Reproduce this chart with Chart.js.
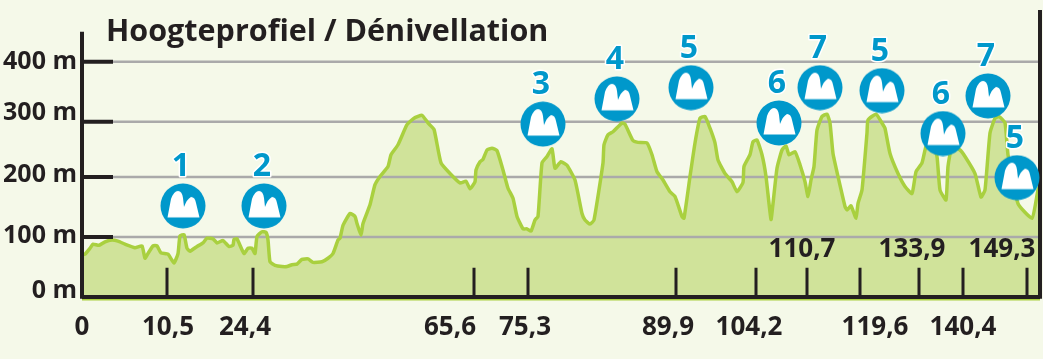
<!DOCTYPE html>
<html>
<head>
<meta charset="utf-8">
<title>Hoogteprofiel</title>
<script src="https://cdn.jsdelivr.net/npm/chart.js@4/dist/chart.umd.min.js"></script>
<style>
  html, body { margin: 0; padding: 0; background: #f5f9e9; }
  #wrap { width: 1043px; height: 359px; overflow: hidden; }
</style>
</head>
<body>
<div id="wrap"><canvas id="profileCanvas" width="1043" height="359"></canvas></div>
<script>
const titleText = "Hoogteprofiel / Dénivellation";

// profile: position along the drawn axis (the km axis is not to scale) + elevation in m
const profileDist = [
  0, 3, 8, 11, 17, 23, 30, 36, 43, 53, 60, 63, 66, 71, 75, 79, 86, 92, 96, 98,
  102, 105, 108, 115, 121, 125, 131, 135, 141, 147, 151, 152, 155, 162, 166, 170, 173, 175, 180, 184,
  186, 188, 193, 200, 205, 210, 215, 220, 226, 231, 240, 246, 251, 256, 258, 261, 268, 273, 275, 279,
  281, 288, 293, 298, 306, 309, 316, 325, 332, 340, 346, 352, 359, 368, 378, 384, 388, 393, 394, 398,
  401, 405, 410, 415, 421, 426, 431, 435, 441, 445, 449, 453, 456, 460, 465, 470, 473, 479, 485, 493,
  500, 503, 508, 512, 521, 522, 526, 531, 540, 543, 551, 556, 565, 570, 575, 581, 588, 593, 600, 602,
  608, 613, 618, 623, 628, 633, 636, 643, 650, 655, 661, 662, 668, 671, 675, 680, 684, 689, 691, 695,
  700, 704, 707, 713, 718, 723, 726, 729, 732, 735, 740, 745, 748, 751, 756, 763, 765, 769, 774, 776,
  780, 785, 786, 794, 801, 803, 808, 816, 823, 830, 834, 840, 844, 850, 855, 858, 864, 866, 870, 878,
  883, 893, 899, 903, 908, 913, 917, 923, 926, 936, 950, 956, 958,
];
const profileElev = [
  72, 73, 83, 90, 88, 94, 97, 95, 90, 84, 87, 66, 74, 87, 87, 75, 73, 58, 74, 104,
  106, 83, 78, 86, 92, 100, 99, 92, 96, 86, 88, 98, 99, 74, 83, 83, 74, 103, 111, 110,
  97, 60, 54, 52, 52, 55, 56, 64, 65, 59, 60, 66, 74, 97, 100, 122, 142, 137, 125, 105,
  125, 157, 191, 205, 222, 242, 259, 293, 304, 309, 296, 285, 228, 210, 194, 197, 184, 196, 216, 230,
  234, 250, 253, 249, 216, 185, 168, 137, 116, 116, 112, 131, 137, 228, 239, 252, 219, 230, 224, 199,
  142, 131, 124, 131, 228, 259, 276, 281, 296, 294, 266, 263, 262, 242, 213, 199, 179, 171, 137, 134,
  205, 262, 304, 307, 287, 262, 233, 210, 196, 179, 195, 222, 242, 264, 267, 242, 205, 132, 159, 219,
  250, 257, 242, 247, 225, 196, 171, 199, 222, 284, 307, 311, 296, 244, 205, 154, 148, 155, 134, 159,
  182, 279, 301, 311, 293, 287, 244, 210, 188, 176, 213, 228, 256, 267, 239, 182, 165, 222, 256, 250,
  239, 210, 170, 182, 279, 304, 307, 296, 242, 159, 134, 182, 190,
];

// bottom km ticks; the labels do not sit exactly below their ticks in the original
const kmTickPos = [0, 85, 171, 392, 446, 594, 674, 725, 778, 837, 881, 945];
const kmLabels = ["0", "10,5", "24,4", "65,6", "75,3", "89,9", "104,2", "119,6", "140,4"];
const kmLabelPos = [0, 86, 163, 368, 443, 586, 667, 793, 881];
const kmUpperLabels = ["110,7", "133,9", "149,3"];
const kmUpperPos = [720, 830, 920];
const kmUpperElev = 80;

// elevation axis
const gridElev = [102, 204, 298, 400];
const elevLabels = ["0 m", "100 m", "200 m", "300 m", "400 m"];
const elevLabelPos = [11, 104, 208, 313, 400];

// climbs
const climbNumbers = ["1", "2", "3", "4", "5", "6", "7", "5", "6", "7", "5"];
const climbDist = [101, 182, 461, 535, 609, 697, 738, 800, 861, 906, 935];
const climbElev = [155, 155, 294, 337, 356, 296, 356, 351, 278, 342, 203];

const axisMax = 958;
const leftSpineTop = 451;
const rightSpineTop = 488;
const COLORS = {
  ink: "#231f20",
  grid: "#aaaaaa",
  fill: "#d0e39a",
  line: "#a9d03f",
  blue: "#0098cb",
};
const FONT = '"Open Sans", "Noto Sans", sans-serif';

// ===== climb badge, used as point image =====
function makeBadge() {
  const c = document.createElement("canvas");
  c.width = 46;
  c.height = 46;
  const g = c.getContext("2d");
  g.translate(23, 23);
  g.fillStyle = COLORS.blue;
  g.beginPath();
  g.arc(0, 0, 22.5, 0, Math.PI * 2);
  g.fill();
  g.fillStyle = "#fff";
  g.beginPath();
  g.moveTo(-15.5, 11.5);
  g.lineTo(-12, -7);
  g.quadraticCurveTo(-9, -15, -5, -15);
  g.quadraticCurveTo(-1, -15, 0, -8);
  g.lineTo(1, 1);
  g.quadraticCurveTo(4, -7, 8, -9);
  g.quadraticCurveTo(12, -9, 13, -3);
  g.lineTo(16.5, 11.5);
  g.closePath();
  g.fill();
  return c;
}

// ===== helpers: separate segments from pairs, split with a null gap =====
function segments(pairs) {
  const pts = [];
  pairs.forEach(([a, b]) => pts.push(a, b, { x: null, y: null }));
  return pts;
}

const profilePts = profileDist.map((d, i) => ({ x: d, y: profileElev[i] }));
const gridPts = segments(gridElev.map((e) => [{ x: 0, y: e }, { x: axisMax, y: e }]));
const stubPts = segments(gridElev.map((e) => [{ x: 0, y: e }, { x: 31, y: e }]));
const kmTickPts = segments(kmTickPos.map((k) => [{ x: k, y: 0 }, { x: k, y: 50 }]));
const climbPts = climbDist.map((d, i) => ({ x: d, y: climbElev[i] }));

// ===== text that is not on an axis =====
const textPlugin = {
  id: "profileText",
  afterDraw(chart) {
    const { ctx, scales } = chart;
    ctx.save();
    ctx.textBaseline = "middle";

    ctx.fillStyle = COLORS.ink;
    ctx.textAlign = "left";
    ctx.font = `bold 30.5px ${FONT}`;
    ctx.fillText(titleText, scales.x.left + 24, 32);

    ctx.textAlign = "center";
    ctx.font = `bold 26px ${FONT}`;
    kmUpperLabels.forEach((label, i) => {
      ctx.fillText(label, scales.x.getPixelForValue(kmUpperPos[i]), scales.y.getPixelForValue(kmUpperElev));
    });

    ctx.font = `bold 32px ${FONT}`;
    ctx.lineJoin = "round";
    ctx.lineWidth = 3;
    ctx.strokeStyle = "#fff";
    ctx.fillStyle = COLORS.blue;
    chart.getDatasetMeta(0).data.forEach((pt, i) => {
      ctx.strokeText(climbNumbers[i], pt.x - 2, pt.y - 39);
      ctx.fillText(climbNumbers[i], pt.x - 2, pt.y - 39);
    });
    ctx.restore();
  },
};

new Chart(document.getElementById("profileCanvas"), {
  type: "line",
  data: {
    datasets: [
      {
        label: "Climbs",
        data: climbPts,
        showLine: false,
        pointStyle: makeBadge(),
        pointRadius: 23,
      },
      {
        label: "Spine left",
        data: [{ x: 0, y: -3 }, { x: 0, y: leftSpineTop }],
        borderColor: COLORS.ink,
        borderWidth: 4,
        pointRadius: 0,
      },
      {
        label: "Spine right",
        data: [{ x: axisMax, y: -3 }, { x: axisMax, y: rightSpineTop }],
        borderColor: COLORS.ink,
        borderWidth: 4,
        pointRadius: 0,
      },
      {
        label: "Baseline",
        data: [{ x: 0, y: 0 }, { x: axisMax, y: 0 }],
        borderColor: COLORS.ink,
        borderWidth: 4,
        pointRadius: 0,
      },
      {
        label: "Baseline edge",
        data: [{ x: 0, y: -4 }, { x: axisMax, y: -4 }],
        borderColor: COLORS.line,
        borderWidth: 2,
        pointRadius: 0,
      },
      {
        label: "Km ticks",
        data: kmTickPts,
        borderColor: COLORS.ink,
        borderWidth: 3,
        pointRadius: 0,
        spanGaps: false,
      },
      {
        label: "Elevation ticks",
        data: stubPts,
        borderColor: COLORS.ink,
        borderWidth: 4,
        pointRadius: 0,
        spanGaps: false,
      },
      {
        label: "Elevation line",
        data: profilePts,
        borderColor: COLORS.line,
        borderWidth: 3.5,
        pointRadius: 0,
        tension: 0.15,
      },
      {
        label: "Grid",
        data: gridPts,
        borderColor: COLORS.grid,
        borderWidth: 2.5,
        pointRadius: 0,
        spanGaps: false,
      },
      {
        label: "Elevation fill",
        data: profilePts,
        borderWidth: 0,
        borderColor: "transparent",
        backgroundColor: COLORS.fill,
        fill: { value: 0 },
        pointRadius: 0,
        tension: 0.15,
      },
    ],
  },
  options: {
    responsive: false,
    animation: false,
    // the badges are big points, without this Chart.js shrinks the plot to fit them
    layout: { autoPadding: false, padding: { top: 10, right: 3 } },
    clip: false,
    plugins: {
      legend: { display: false },
      tooltip: { enabled: false },
    },
    scales: {
      x: {
        type: "linear",
        min: 0,
        max: axisMax,
        grid: { display: false, drawTicks: false },
        border: { display: false },
        afterBuildTicks: (scale) => {
          scale.ticks = kmLabelPos.map((v) => ({ value: v }));
        },
        afterFit: (scale) => {
          scale.height = 59;
          scale.paddingLeft = 0;
          scale.paddingRight = 0;
        },
        ticks: {
          autoSkip: false,
          maxRotation: 0,
          padding: 12,
          color: COLORS.ink,
          font: { family: FONT, size: 26, weight: "bold" },
          callback: (v, i) => kmLabels[i],
        },
      },
      y: {
        type: "linear",
        min: -5,
        max: rightSpineTop,
        grid: { display: false, drawTicks: false },
        border: { display: false },
        afterBuildTicks: (scale) => {
          scale.ticks = elevLabelPos.map((v) => ({ value: v }));
        },
        afterFit: (scale) => {
          scale.width = 82;
          scale.paddingTop = 0;
          scale.paddingBottom = 0;
        },
        ticks: {
          padding: 5,
          color: COLORS.ink,
          font: { family: FONT, size: 25, weight: "bold" },
          callback: (v, i) => elevLabels[i],
        },
      },
    },
  },
  plugins: [textPlugin],
});
</script>
</body>
</html>
